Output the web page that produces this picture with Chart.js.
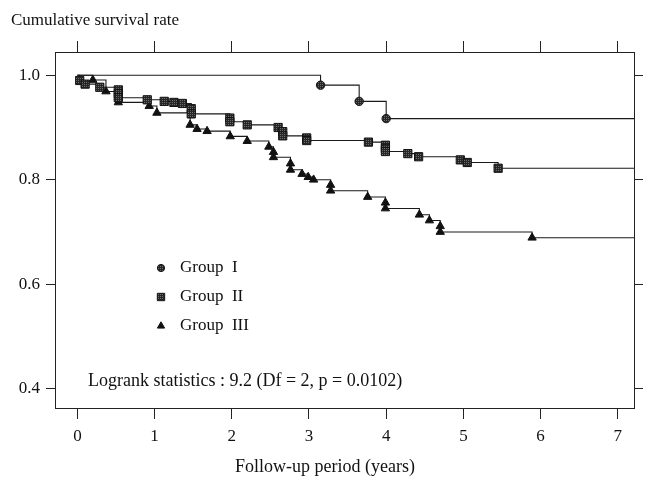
<!DOCTYPE html>
<html>
<head>
<meta charset="utf-8">
<script src="https://cdn.jsdelivr.net/npm/chart.js@4.4.1/dist/chart.umd.min.js"></script>
<style>
html, body { margin: 0; padding: 0; background: #fff; }
#wrap { width: 645px; height: 477px; }
</style>
</head>
<body>
<div id="wrap"><canvas id="survChart" width="645" height="477"></canvas></div>
<script>
// axis ticks / ranges
const xTicks = [0, 1, 2, 3, 4, 5, 6, 7];
const yTicks = [0.4, 0.6, 0.8, 1.0];
const xRange = [-0.29, 7.21];
const yRange = [0.363, 1.0445];

// Kaplan-Meier steps (time in years, survival after event); repeated times = tied events
const group1Time = [0, 3.15, 3.65, 4.0, 7.21];
const group1Surv = [1.0, 0.981, 0.95, 0.917, 0.917];

const group2Time = [0, 0.03, 0.1, 0.29, 0.53, 0.53, 0.53, 0.905, 1.125, 1.25, 1.36, 1.475, 1.475,
    1.975, 1.975, 2.2, 2.6, 2.66, 2.66, 2.97, 2.97, 3.77, 3.99, 3.99, 3.99, 4.28, 4.42, 4.96, 5.05, 5.45, 7.21];
const group2Surv = [1.0, 0.99, 0.983, 0.977, 0.972, 0.965, 0.957, 0.953, 0.95, 0.948, 0.946, 0.936, 0.926,
    0.918, 0.911, 0.905, 0.9, 0.892, 0.884, 0.88, 0.875, 0.872, 0.866, 0.86, 0.854, 0.85, 0.844, 0.838, 0.833, 0.822, 0.822];

const group3Time = [0, 0.2, 0.37, 0.53, 0.53, 0.93, 1.03, 1.46, 1.55, 1.68, 1.98, 2.2, 2.48, 2.54, 2.54,
    2.76, 2.76, 2.91, 2.99, 3.06, 3.28, 3.28, 3.76, 3.99, 3.99, 4.43, 4.56, 4.7, 4.7, 5.89, 7.21];
const group3Surv = [1.0, 0.991, 0.969, 0.958, 0.948, 0.941, 0.928, 0.905, 0.897, 0.893, 0.883, 0.874, 0.863, 0.853, 0.843,
    0.831, 0.819, 0.811, 0.805, 0.8, 0.79, 0.779, 0.767, 0.756, 0.745, 0.733, 0.722, 0.711, 0.7, 0.689, 0.689];

const groupNames = ['Group  I', 'Group  II', 'Group  III'];
const logrankText = 'Logrank statistics : 9.2 (Df = 2, p = 0.0102)';

const canvas = document.getElementById('survChart');
const ctx = canvas.getContext('2d');

function halftone() {
    const c = document.createElement('canvas');
    c.width = 2; c.height = 2;
    const g = c.getContext('2d');
    g.fillStyle = '#262626';
    g.fillRect(0, 0, 2, 2);
    g.fillStyle = '#6e6e6e';
    g.fillRect(0, 0, 1, 1);
    return ctx.createPattern(c, 'repeat');
}
const markFill = halftone();

const styles = [
    { pointStyle: 'circle', radius: 4.2, fill: markFill },
    { pointStyle: 'rect', radius: 5.8, fill: markFill },
    { pointStyle: 'triangle', radius: 4.8, fill: '#111' }
];

function makeSet(i, times, surv) {
    const n = times.length;
    return {
        label: groupNames[i],
        data: times.map((t, k) => ({ x: t, y: surv[k] })),
        showLine: true,
        stepped: 'before',
        borderColor: '#1a1a1a',
        borderWidth: 1.1,
        pointStyle: styles[i].pointStyle,
        pointRadius: times.map((t, k) => (k === 0 || k === n - 1) ? 0 : styles[i].radius),
        pointBackgroundColor: styles[i].fill,
        pointBorderColor: '#111',
        pointBorderWidth: 1
    };
}

const serif = '"Liberation Serif", "Times New Roman", serif';

const textPlugin = {
    id: 'texts',
    afterDraw(chart) {
        const c = chart.ctx;
        c.save();
        c.fillStyle = '#111';
        c.font = '17px ' + serif;
        c.textAlign = 'left';
        c.textBaseline = 'alphabetic';
        c.fillText('Cumulative survival rate', 11, 25);

        c.font = '18px ' + serif;
        c.textAlign = 'center';
        c.fillText('Follow-up period (years)', 325, 472);

        // legend
        c.textAlign = 'left';
        c.textBaseline = 'middle';
        c.font = '17px ' + serif;
        const ly = [268, 297, 326];
        for (let i = 0; i < 3; i++) {
            c.fillStyle = styles[i].fill;
            c.strokeStyle = '#111';
            c.lineWidth = 1;
            Chart.helpers.drawPoint(c, { pointStyle: styles[i].pointStyle, radius: styles[i].radius - 0.6, rotation: 0, borderWidth: 1 }, 161, ly[i]);
            c.fillStyle = '#111';
            c.fillText(groupNames[i], 180, ly[i]);
        }

        c.font = '18px ' + serif;
        c.fillText(logrankText, 88, 381);
        c.restore();
    }
};

function axisOpts(pos, showLabels, size) {
    const horiz = pos === 'top' || pos === 'bottom';
    return {
        type: 'linear',
        position: pos,
        min: horiz ? xRange[0] : yRange[0],
        max: horiz ? xRange[1] : yRange[1],
        afterBuildTicks: s => { s.ticks = (horiz ? xTicks : yTicks).map(v => ({ value: v })); },
        afterFit: s => { if (horiz) s.height = size; else s.width = size; },
        grid: { drawOnChartArea: false, drawTicks: true, tickLength: horiz ? 11 : 9, color: '#222', lineWidth: 1 },
        border: { display: true, color: '#222', width: 1 },
        ticks: {
            display: showLabels,
            color: '#111',
            font: { family: serif, size: 17 },
            padding: horiz ? 7 : 6,
            callback: v => horiz ? String(v) : v.toFixed(1)
        }
    };
}

new Chart(ctx, {
    type: 'scatter',
    data: {
        datasets: [
            makeSet(0, group1Time, group1Surv),
            makeSet(1, group2Time, group2Surv),
            makeSet(2, group3Time, group3Surv)
        ]
    },
    options: {
        responsive: false,
        animation: false,
        devicePixelRatio: 1,
        layout: { padding: 0 },
        plugins: { legend: { display: false }, tooltip: { enabled: false } },
        scales: {
            x: axisOpts('bottom', true, 69),
            xTop: axisOpts('top', false, 52),
            y: axisOpts('left', true, 55),
            yRight: axisOpts('right', false, 11)
        }
    },
    plugins: [textPlugin]
});
</script>
</body>
</html>
